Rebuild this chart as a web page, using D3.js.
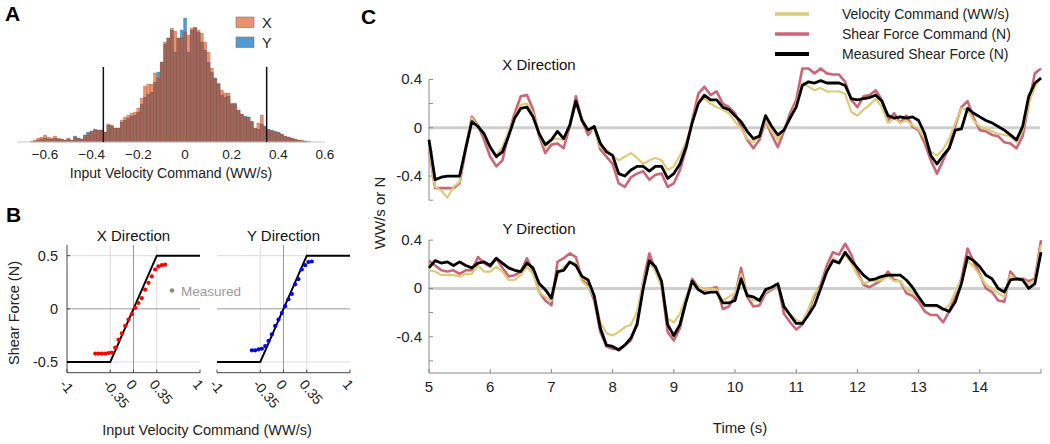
<!DOCTYPE html>
<html><head><meta charset="utf-8">
<script src="https://cdn.jsdelivr.net/npm/d3@7"></script>
<style>body{margin:0;background:#fff}svg{display:block}</style>
</head><body>
<svg id="chart" width="1050" height="444"></svg>
<script>
// ---------------- DATA ----------------
// Panel A: histogram of input velocity commands
const histStart = -0.664;
const histWidth = 0.01429;
const histX = [1,2,4,5,7,5,4,6,4,3,2,4,2,5,4,3,7,9,11,12,12,12,10,18,17,14,14,22,25,27,29,30,34,44,56,58,58,69,64,80,100,104,114,111,104,104,110,107,114,115,112,109,100,90,74,64,59,52,49,49,39,39,32,28,25,25,20,14,19,27,15,12,11,10,9,8,6,5,4,3,2,2,1,1];
const histY = [0,1,2,3,4,3,3,4,3,3,2,3,2,6,4,3,7,10,11,13,12,12,10,17,16,14,14,20,22,24,26,27,30,38,45,48,50,60,70,80,98,104,112,90,104,112,124,90,112,114,110,100,92,80,70,64,58,47,45,46,38,38,32,28,26,25,21,14,13,18,16,13,12,11,10,8,6,5,4,3,2,1,1,0];
const histLimits = [-0.35, 0.35];
const histTicks = [-0.6, -0.4, -0.2, 0, 0.2, 0.4, 0.6];

// Panel B: commanded vs measured shear force
const satIn  = [-1, -0.35, 0.35, 1];
const satOut = [-0.5, -0.5, 0.5, 0.5];
const xDotIn  = [-0.575,-0.525,-0.475,-0.425,-0.375,-0.325,-0.275,-0.225,-0.175,-0.125,-0.075,-0.025,0.025,0.075,0.125,0.175,0.225,0.275,0.325,0.375,0.425,0.475];
const xDotOut = [-0.42,-0.42,-0.42,-0.42,-0.415,-0.41,-0.365,-0.29,-0.23,-0.16,-0.10,-0.05,0.01,0.055,0.10,0.18,0.245,0.305,0.37,0.40,0.41,0.415];
const yDotIn  = [-0.475,-0.425,-0.375,-0.325,-0.275,-0.225,-0.175,-0.125,-0.075,-0.025,0.025,0.075,0.125,0.175,0.225,0.275,0.325,0.375,0.425];
const yDotOut = [-0.39,-0.39,-0.38,-0.375,-0.35,-0.30,-0.24,-0.16,-0.10,-0.04,0.025,0.09,0.14,0.23,0.28,0.37,0.41,0.44,0.445];
const bXTicks = [-1, -0.35, 0, 0.35, 1];
const bYTicks = [-0.5, 0, 0.5];

// Panel C: time series (t = 5.0 ... 15.0 s, every 0.1 s)
const timeS = d3.range(0, 101).map(i => +(5 + i * 0.1).toFixed(1));
const xVel = [-0.17,-0.49,-0.52,-0.58,-0.49,-0.45,-0.14,0.08,0.01,-0.06,
 -0.17,-0.23,-0.16,-0.03,0.09,0.19,0.20,0.12,-0.06,-0.16,
 -0.10,-0.09,-0.10,0.01,0.20,0.08,-0.03,-0.01,-0.16,-0.18,
 -0.23,-0.27,-0.24,-0.21,-0.25,-0.30,-0.27,-0.25,-0.27,-0.35,
 -0.32,-0.23,-0.12,0.04,0.22,0.24,0.20,0.17,0.15,0.12,
 0.05,-0.01,-0.09,-0.12,-0.06,0.06,-0.03,-0.10,-0.01,0.08,
 0.20,0.37,0.34,0.31,0.33,0.30,0.30,0.30,0.28,0.13,
 0.10,0.15,0.19,0.24,0.17,0.04,0.08,0.04,0.06,0.02,
 -0.01,-0.09,-0.20,-0.23,-0.18,-0.09,0.04,0.16,0.15,0.06,
 0.01,-0.01,-0.03,-0.05,-0.06,-0.07,-0.12,-0.02,0.20,0.34,
 0.42];
const xCmd = [-0.18,-0.50,-0.50,-0.50,-0.50,-0.46,-0.18,0.09,0.02,-0.10,
 -0.24,-0.32,-0.27,-0.05,0.12,0.26,0.27,0.15,-0.07,-0.21,
 -0.14,-0.13,-0.17,0.01,0.26,0.06,-0.06,0.01,-0.18,-0.24,
 -0.30,-0.46,-0.49,-0.41,-0.38,-0.36,-0.43,-0.39,-0.38,-0.49,
 -0.46,-0.35,-0.18,0.06,0.28,0.34,0.27,0.30,0.20,0.17,
 0.12,0.01,-0.10,-0.17,-0.10,0.06,-0.06,-0.16,-0.03,0.12,
 0.23,0.49,0.49,0.45,0.49,0.45,0.44,0.44,0.38,0.23,
 0.17,0.26,0.27,0.31,0.23,0.06,0.12,0.04,0.10,0.01,
 -0.02,-0.13,-0.27,-0.38,-0.27,-0.16,0.02,0.17,0.22,0.08,
 -0.02,-0.03,-0.06,-0.07,-0.12,-0.13,-0.17,-0.07,0.20,0.45,
 0.49];
const xMeas = [-0.10,-0.43,-0.41,-0.40,-0.40,-0.40,-0.17,0.05,0.01,-0.05,
 -0.16,-0.24,-0.20,-0.07,0.08,0.16,0.17,0.09,-0.05,-0.14,
 -0.10,-0.03,-0.09,0.02,0.22,0.06,-0.02,0.01,-0.13,-0.20,
 -0.23,-0.38,-0.40,-0.35,-0.32,-0.32,-0.36,-0.32,-0.32,-0.42,
 -0.38,-0.30,-0.16,0.04,0.20,0.27,0.23,0.23,0.17,0.15,
 0.10,0.05,-0.03,-0.09,-0.07,0.10,0.01,-0.06,-0.02,0.08,
 0.17,0.35,0.38,0.37,0.39,0.37,0.37,0.37,0.35,0.24,
 0.23,0.24,0.25,0.27,0.22,0.10,0.08,0.09,0.08,0.09,
 0.06,-0.05,-0.23,-0.30,-0.23,-0.17,-0.02,-0.01,0.16,0.12,
 0.09,0.06,0.04,0.01,-0.02,-0.06,-0.10,0.01,0.26,0.37,
 0.41];
const yVel = [0.15,0.14,0.11,0.11,0.11,0.10,0.12,0.12,0.19,0.14,
 0.14,0.18,0.14,0.07,0.07,0.11,0.18,0.12,-0.03,-0.07,
 -0.10,0.11,0.18,0.21,0.21,0.06,0.01,-0.07,-0.28,-0.37,
 -0.39,-0.36,-0.32,-0.30,-0.19,0.06,0.22,0.14,0.01,-0.25,
 -0.28,-0.21,-0.07,0.06,0.01,-0.01,0.00,-0.01,-0.10,-0.07,
 -0.04,0.12,-0.04,-0.10,-0.10,-0.03,0.00,0.03,-0.14,-0.21,
 -0.26,-0.28,-0.17,-0.04,0.01,0.15,0.25,0.22,0.28,0.21,
 0.11,0.04,0.06,0.06,0.07,0.10,0.06,0.06,-0.01,-0.03,
 -0.08,-0.14,-0.15,-0.15,-0.18,-0.14,-0.03,0.07,0.23,0.18,
 0.11,0.03,0.00,-0.04,-0.07,0.11,0.07,0.07,0.04,0.07,
 0.36];
const yCmd = [0.23,0.19,0.15,0.14,0.15,0.12,0.15,0.15,0.26,0.21,
 0.18,0.25,0.17,0.10,0.11,0.14,0.25,0.14,-0.03,-0.10,
 -0.14,0.22,0.25,0.29,0.26,0.07,0.03,-0.10,-0.36,-0.48,
 -0.50,-0.50,-0.47,-0.43,-0.28,0.06,0.29,0.15,0.03,-0.36,
 -0.43,-0.33,-0.10,0.08,0.01,-0.01,0.00,0.01,-0.17,-0.15,
 -0.06,0.17,-0.07,-0.15,-0.14,-0.04,-0.01,0.03,-0.21,-0.28,
 -0.34,-0.30,-0.19,-0.06,0.03,0.19,0.30,0.28,0.37,0.28,
 0.14,0.03,0.01,0.04,0.07,0.14,0.07,0.06,-0.04,-0.06,
 -0.11,-0.19,-0.22,-0.22,-0.28,-0.19,-0.06,0.08,0.33,0.22,
 0.12,0.00,-0.03,-0.10,-0.11,0.14,0.08,0.08,0.06,0.08,
 0.40];
const yMeas = [0.17,0.23,0.21,0.22,0.19,0.22,0.19,0.17,0.21,0.22,
 0.19,0.25,0.21,0.17,0.15,0.14,0.21,0.17,0.04,-0.01,
 -0.08,0.14,0.15,0.22,0.19,0.10,0.07,-0.06,-0.33,-0.47,
 -0.48,-0.51,-0.47,-0.41,-0.30,0.00,0.23,0.18,0.06,-0.30,
 -0.39,-0.30,-0.11,0.06,-0.01,-0.04,-0.03,-0.03,-0.12,-0.12,
 -0.10,0.08,-0.06,-0.07,-0.10,-0.01,0.01,0.04,-0.15,-0.22,
 -0.29,-0.29,-0.22,-0.14,0.00,0.14,0.23,0.21,0.30,0.23,
 0.17,0.11,0.07,0.08,0.10,0.11,0.11,0.11,0.07,0.01,
 -0.07,-0.14,-0.14,-0.14,-0.17,-0.19,-0.11,0.04,0.26,0.23,
 0.18,0.11,0.08,0.00,-0.03,0.07,0.08,0.07,0.00,0.04,
 0.30];
const timeTicks = [5,6,7,8,9,10,11,12,13,14,15];
const timeLabels = ["5","6","7","8","9","10","11","12","13","14",""];
const cYTicks = [-0.6,-0.4,-0.2,0,0.2,0.4];
const cYLabels = {"-0.4":"-0.4","0":"0","0.4":"0.4"};
const seriesNames = ["Velocity Command (WW/s)","Shear Force Command (N)","Measured Shear Force (N)"];
const seriesColors = ["#DDCC77","#CC6677","#000000"];

// ---------------- DRAW ----------------
const FONT = "'Liberation Sans', Arial, Helvetica, sans-serif";
const svg = d3.select("#chart").style("font-family", FONT);
const txt = (x, y, s, size, opts = {}) => {
  const t = svg.append("text").attr("x", x).attr("y", y).text(s)
    .attr("font-size", size).attr("fill", opts.fill || "#222")
    .attr("text-anchor", opts.anchor || "start");
  if (opts.weight) t.attr("font-weight", opts.weight);
  if (opts.rotate !== undefined) t.attr("transform", `rotate(${opts.rotate},${x},${y})`);
  return t;
};

// Panel letters
txt(5, 21, "A", 21, {weight: "bold", fill: "#000"});
txt(6, 222, "B", 21, {weight: "bold", fill: "#000"});
txt(361, 24, "C", 21, {weight: "bold", fill: "#000"});

// ---- Panel A ----
const X_FILL = "#dc3e00", X_OP = 0.57, Y_FILL = "#509bd2";
const xA = d3.scaleLinear().domain([-0.72, 0.6]).range([17, 325]);
const yA = d3.scaleLinear().domain([0, 125]).range([142, 17]);
const bw = xA(histWidth) - xA(0);
const gA = svg.append("g");
gA.selectAll("rect.hy").data(histY).join("rect").attr("class", "hy")
  .attr("x", (d, i) => xA(histStart + i * histWidth)).attr("width", bw)
  .attr("y", d => yA(d)).attr("height", d => yA(0) - yA(d))
  .attr("fill", Y_FILL)
  .attr("stroke", "#3a6f98").attr("stroke-width", 0.35).attr("stroke-opacity", 0.5);
gA.selectAll("rect.hx").data(histX).join("rect").attr("class", "hx")
  .attr("x", (d, i) => xA(histStart + i * histWidth)).attr("width", bw)
  .attr("y", d => yA(d)).attr("height", d => yA(0) - yA(d))
  .attr("fill", X_FILL).attr("fill-opacity", X_OP)
  .attr("stroke", "#6e4a3e").attr("stroke-width", 0.35).attr("stroke-opacity", 0.5);
gA.append("line").attr("x1", 17).attr("x2", 325).attr("y1", yA(0)).attr("y2", yA(0))
  .attr("stroke", "#c8c8c8").attr("stroke-width", 1);
gA.selectAll("line.lim").data(histLimits).join("line").attr("class", "lim")
  .attr("x1", d => xA(d)).attr("x2", d => xA(d)).attr("y1", yA(0)).attr("y2", yA(75))
  .attr("stroke", "#111").attr("stroke-width", 1.5);
histTicks.forEach(v => txt(xA(v), 159, v === 0 ? "0" : d3.format(".1f")(v), 13.5, {anchor: "middle"}));
txt(xA(-0.06), 178, "Input Velocity Command (WW/s)", 14, {anchor: "middle"});
// legend A
[["X", X_FILL, X_OP, 0], ["Y", Y_FILL, 1, 20]].forEach(([lab, c, op, dy]) => {
  svg.append("rect").attr("x", 236).attr("y", 17 + dy).attr("width", 18).attr("height", 10.5)
    .attr("fill", c).attr("fill-opacity", op).attr("stroke", "#777").attr("stroke-width", 0.6);
  txt(262, 27.5 + dy, lab, 14.5);
});

// ---- Panel B ----
const yB = d3.scaleLinear().domain([-0.6, 0.6]).range([372.7, 245]);
const panelsB = [
  {x0: 67, x1: 200, title: "X Direction", dIn: xDotIn, dOut: xDotOut, color: "#ff0000", yLabels: true},
  {x0: 217, x1: 350, title: "Y Direction", dIn: yDotIn, dOut: yDotOut, color: "#0000ff", yLabels: false}
];
panelsB.forEach(p => {
  const xB = d3.scaleLinear().domain([-1, 1]).range([p.x0, p.x1]);
  const g = svg.append("g");
  [-0.5, 0.5].forEach(v => g.append("line").attr("x1", p.x0).attr("x2", p.x1).attr("y1", yB(v)).attr("y2", yB(v)).attr("stroke", "#dcdcdc"));
  [-0.35, 0.35].forEach(v => g.append("line").attr("x1", xB(v)).attr("x2", xB(v)).attr("y1", yB(0.6)).attr("y2", yB(-0.6)).attr("stroke", "#dcdcdc"));
  g.append("line").attr("x1", p.x0).attr("x2", p.x1).attr("y1", yB(0)).attr("y2", yB(0)).attr("stroke", "#9a9a9a");
  g.append("line").attr("x1", xB(0)).attr("x2", xB(0)).attr("y1", yB(0.6)).attr("y2", yB(-0.6)).attr("stroke", "#9a9a9a");
  g.append("line").attr("x1", p.x0).attr("x2", p.x1).attr("y1", yB(-0.6)).attr("y2", yB(-0.6)).attr("stroke", "#444");
  bXTicks.forEach(v => g.append("line").attr("x1", xB(v)).attr("x2", xB(v)).attr("y1", yB(-0.6)).attr("y2", yB(-0.6) - 3).attr("stroke", "#444"));
  if (p.yLabels) {
    g.append("line").attr("x1", p.x0).attr("x2", p.x0).attr("y1", yB(0.6)).attr("y2", yB(-0.6)).attr("stroke", "#444");
    bYTicks.forEach(v => {
      g.append("line").attr("x1", p.x0).attr("x2", p.x0 + 3).attr("y1", yB(v)).attr("y2", yB(v)).attr("stroke", "#444");
      txt(p.x0 - 9, yB(v) + 5, String(v), 14.5, {anchor: "end"});
    });
  }
  bXTicks.forEach(v => txt(xB(v) - 8, yB(-0.6) + 12, String(v), 14, {rotate: 50}));
  g.append("path").datum(d3.zip(satIn, satOut))
    .attr("d", d3.line().x(d => xB(d[0])).y(d => yB(d[1])))
    .attr("fill", "none").attr("stroke", "#000").attr("stroke-width", 2);
  g.selectAll("circle").data(d3.zip(p.dIn, p.dOut)).join("circle")
    .attr("cx", d => xB(d[0])).attr("cy", d => yB(d[1])).attr("r", 2.1).attr("fill", p.color);
  txt((p.x0 + p.x1) / 2, 241, p.title, 15, {anchor: "middle", fill: "#111"});
});
svg.append("circle").attr("cx", 172).attr("cy", 290.5).attr("r", 2.3).attr("fill", "#8e8e78");
txt(181, 295.5, "Measured", 13.5, {fill: "#9a9a9a"});
txt(19, 313, "Shear Force (N)", 14.5, {anchor: "middle", rotate: -90});
txt(207, 435, "Input Velocity Command (WW/s)", 14.5, {anchor: "middle"});

// ---- Panel C ----
const xC = d3.scaleLinear().domain([5, 15]).range([429, 1041]);
const panelsC = [
  {yDom: [-0.6, 0.4], y0: 200.2, title: "X Direction", titleY: 70, vel: xVel, cmd: xCmd, meas: xMeas, xAxis: false},
  {yDom: [-0.7, 0.4], y0: 373.0, title: "Y Direction", titleY: 234, vel: yVel, cmd: yCmd, meas: yMeas, xAxis: true}
];
panelsC.forEach(p => {
  const yC = d3.scaleLinear().domain(p.yDom).range([p.y0, p.y0 - (p.yDom[1] - p.yDom[0]) * 120.8]);
  const g = svg.append("g");
  g.append("line").attr("x1", xC(5)).attr("x2", xC(15) - 1).attr("y1", yC(0)).attr("y2", yC(0))
    .attr("stroke", "#cfcfcf").attr("stroke-width", 3);
  g.append("line").attr("x1", xC(5)).attr("x2", xC(5)).attr("y1", yC(0.4)).attr("y2", yC(p.yDom[0])).attr("stroke", "#8a8a8a");
  cYTicks.forEach(v => {
    g.append("line").attr("x1", xC(5)).attr("x2", xC(5) + 4).attr("y1", yC(v)).attr("y2", yC(v)).attr("stroke", "#8a8a8a");
    const lab = cYLabels[String(v)];
    if (lab !== undefined) txt(xC(5) - 7, yC(v) + 5, lab, 15, {anchor: "end"});
  });
  if (p.xAxis) {
    g.append("line").attr("x1", xC(5)).attr("x2", xC(15)).attr("y1", yC(p.yDom[0])).attr("y2", yC(p.yDom[0])).attr("stroke", "#8a8a8a");
    timeTicks.forEach((v, i) => {
      g.append("line").attr("x1", xC(v)).attr("x2", xC(v)).attr("y1", yC(p.yDom[0])).attr("y2", yC(p.yDom[0]) - 4).attr("stroke", "#8a8a8a");
      txt(xC(v), yC(p.yDom[0]) + 19, timeLabels[i], 15, {anchor: "middle"});
    });
  }
  const line = d3.line().x(d => xC(d[0])).y(d => yC(d[1]));
  [[p.cmd, seriesColors[1], 2.6], [p.vel, seriesColors[0], 2.2], [p.meas, seriesColors[2], 2.8]].forEach(([vals, c, w]) => {
    g.append("path").datum(d3.zip(timeS, vals)).attr("d", line)
      .attr("fill", "none").attr("stroke", c).attr("stroke-width", w).attr("stroke-linejoin", "round");
  });
  txt(539, p.titleY, p.title, 15, {anchor: "middle", fill: "#111"});
});
txt(385, 213, "WW/s or N", 15, {anchor: "middle", rotate: -90});
txt(740, 433, "Time (s)", 15, {anchor: "middle"});
seriesNames.forEach((n, i) => {
  const y = 14 + i * 20;
  svg.append("line").attr("x1", 775).attr("x2", 809).attr("y1", y).attr("y2", y)
    .attr("stroke", seriesColors[i]).attr("stroke-width", i === 2 ? 4 : 3.5);
  txt(842, y + 5, n, 14, {fill: "#222"});
});
</script>
</body></html>
